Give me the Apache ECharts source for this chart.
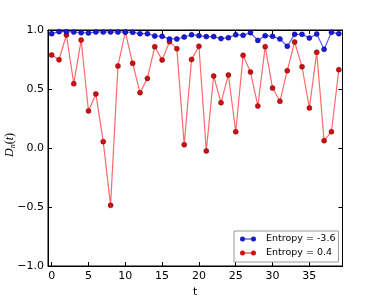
<!DOCTYPE html>
<html>
<head>
<meta charset="utf-8">
<script src="https://cdn.jsdelivr.net/npm/echarts@6/dist/echarts.min.js"></script>
<style>html,body{margin:0;padding:0;background:#fff;}#c{width:381px;height:305px;}</style>
</head>
<body>
<div id="c"></div>
<script>
var tValues = [0,1,2,3,4,5,6,7,8,9,10,11,12,13,14,15,16,17,18,19,20,21,22,23,24,25,26,27,28,29,30,31,32,33,34,35,36,37,38,39];
var entropyNeg36 = [0.969,0.986,0.986,0.983,0.977,0.975,0.983,0.983,0.983,0.983,0.983,0.980,0.969,0.969,0.949,0.946,0.924,0.924,0.941,0.960,0.952,0.944,0.944,0.927,0.935,0.960,0.955,0.977,0.912,0.952,0.946,0.924,0.862,0.963,0.963,0.932,0.966,0.836,0.980,0.969];
var entropy04 = [0.788,0.748,0.958,0.545,0.915,0.314,0.458,0.054,-0.486,0.695,0.983,0.718,0.469,0.590,0.859,0.746,0.901,0.842,0.028,0.751,0.862,-0.025,0.610,0.384,0.619,0.138,0.785,0.644,0.356,0.859,0.508,0.396,0.655,0.898,0.689,0.339,0.811,0.062,0.138,0.664];
var seriesNames = ['Entropy = -3.6', 'Entropy = 0.4'];
var xTicks = [0,5,10,15,20,25,30,35];
var yTicks = [-1.0,-0.5,0.0,0.5,1.0];

function pairs(vals){ return tValues.map(function(t,i){ return [t, vals[i]]; }); }
function fmt(v){ return v.toFixed(1).replace('-', '\u2212'); }

var legendIcon = 'path://M0,2.5A2.5,2.5,0,1,1,5,2.5A2.5,2.5,0,1,1,0,2.5ZM11,2.5A2.5,2.5,0,1,1,16,2.5A2.5,2.5,0,1,1,11,2.5ZM4.5,2L11.5,2L11.5,3L4.5,3Z';

var chart = echarts.init(document.getElementById('c'), null, {renderer:'canvas'});
var axisFont = {fontFamily:'DejaVu Sans', fontSize:11, color:'#000'};
chart.setOption({
  animation:false,
  backgroundColor:'#fff',
  grid:{left:48, right:38.5, top:30, bottom:39, show:true, borderColor:'#000', borderWidth:1, backgroundColor:'transparent'},
  xAxis:[{
    type:'value', min:-0.5, max:39.5, position:'bottom',
    axisLine:{show:true, onZero:false, lineStyle:{color:'#000', width:1}},
    axisTick:{show:true, inside:true, length:4, customValues:xTicks, lineStyle:{color:'#000'}},
    axisLabel:Object.assign({customValues:xTicks, margin:5, formatter:function(v){return String(v);}}, axisFont),
    splitLine:{show:false},
    name:'t', nameLocation:'middle', nameGap:17, nameTextStyle:{fontFamily:'DejaVu Sans', fontSize:11, color:'#000'}
  },{
    type:'value', min:-0.5, max:39.5, position:'top',
    axisLine:{show:true, onZero:false, lineStyle:{color:'#000', width:1}},
    axisTick:{show:true, inside:true, length:4, customValues:xTicks, lineStyle:{color:'#000'}},
    axisLabel:{show:false}, splitLine:{show:false}
  }],
  yAxis:[{
    type:'value', min:-1, max:1, interval:0.5, position:'left',
    axisLine:{show:true, onZero:false, lineStyle:{color:'#000', width:1}},
    axisTick:{show:true, inside:true, length:4, lineStyle:{color:'#000'}},
    axisLabel:Object.assign({margin:4, formatter:fmt}, axisFont),
    splitLine:{show:false}
  },{
    type:'value', min:-1, max:1, interval:0.5, position:'right',
    axisLine:{show:true, onZero:false, lineStyle:{color:'#000', width:1}},
    axisTick:{show:true, inside:true, length:4, lineStyle:{color:'#000'}},
    axisLabel:{show:false}, splitLine:{show:false}
  }],
  legend:{
    orient:'vertical', left:234, top:231,
    padding:[2,3,3,6], itemGap:2, itemWidth:16, itemHeight:5,
    borderColor:'#999', borderWidth:1, backgroundColor:'#fff',
    textStyle:{fontFamily:'DejaVu Sans', fontSize:9.5, color:'#000', padding:[0,0,0,5], lineHeight:12},
    data:[
      {name:seriesNames[0], icon:legendIcon, itemStyle:{color:'#1a1ad0', borderWidth:0}},
      {name:seriesNames[1], icon:legendIcon, itemStyle:{color:'#d01010', borderWidth:0}}
    ]
  },
  graphic:[{
    type:'text', x:10, y:145, rotation:Math.PI/2,
    style:{
      text:'{d|D}{n|n}{p|(}{d|t}{p|)}',
      align:'center', verticalAlign:'middle',
      rich:{
        d:{fontFamily:'Liberation Serif', fontStyle:'italic', fontSize:12, fill:'#000'},
        n:{fontFamily:'Liberation Serif', fontStyle:'italic', fontSize:8, fill:'#000', verticalAlign:'bottom', padding:[5,0,0,0]},
        p:{fontFamily:'Liberation Serif', fontSize:12, fill:'#000'}
      }
    }
  }],
  series:[{
    name:seriesNames[0], type:'line', data:pairs(entropyNeg36),
    symbol:'circle', symbolSize:5, showSymbol:true,
    lineStyle:{color:'#5a5aff', width:1.2},
    itemStyle:{color:'#1a1ad0', borderColor:'#00008a', borderWidth:0.5},
    z:3
  },{
    name:seriesNames[1], type:'line', data:pairs(entropy04),
    symbol:'circle', symbolSize:5, showSymbol:true,
    lineStyle:{color:'#ff6a6a', width:1.2},
    itemStyle:{color:'#d01010', borderColor:'#700000', borderWidth:0.5},
    z:2
  }]
});
</script>
</body>
</html>
